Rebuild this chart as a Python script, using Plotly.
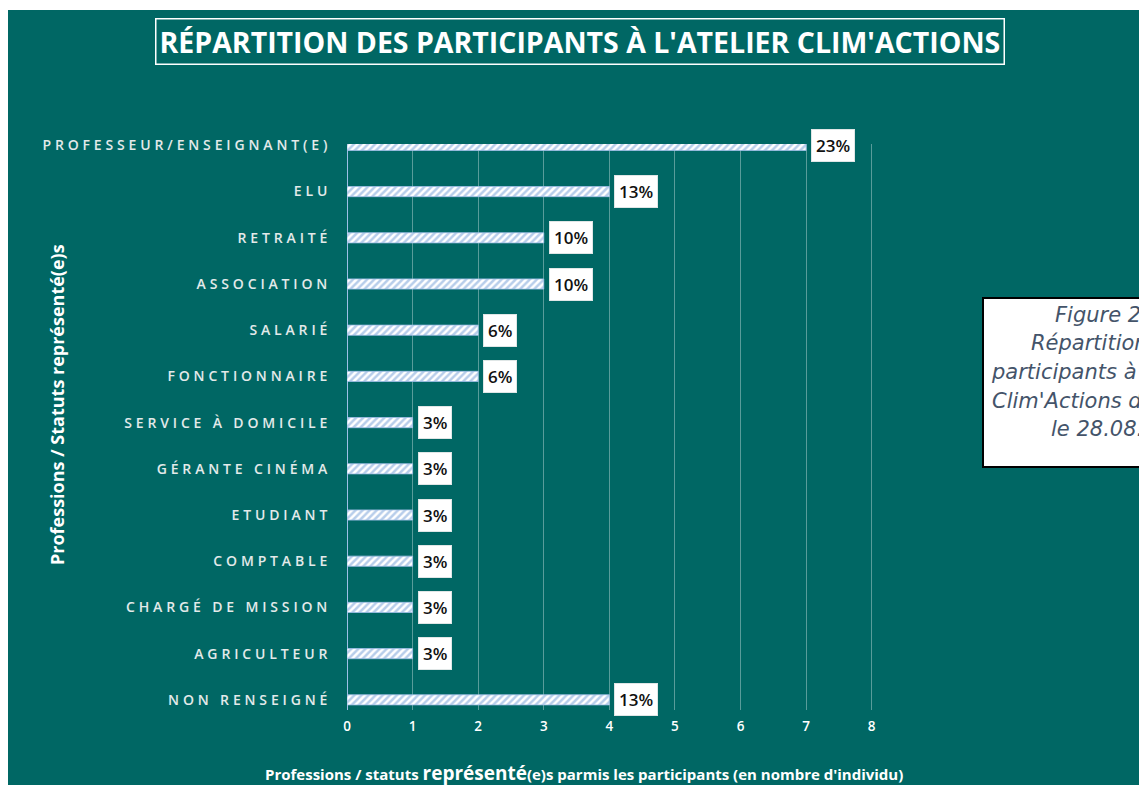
import plotly.graph_objects as go

categories = ["PROFESSEUR/ENSEIGNANT(E)", "ELU", "RETRAITÉ", "ASSOCIATION", "SALARIÉ",
              "FONCTIONNAIRE", "SERVICE À DOMICILE", "GÉRANTE CINÉMA", "ETUDIANT",
              "COMPTABLE", "CHARGÉ DE MISSION", "AGRICULTEUR", "NON RENSEIGNÉ"]
counts = [7, 4, 3, 3, 2, 2, 1, 1, 1, 1, 1, 1, 4]
pct_labels = ["23%", "13%", "10%", "10%", "6%", "6%", "3%", "3%", "3%", "3%", "3%", "3%", "13%"]
x_ticks = [0, 1, 2, 3, 4, 5, 6, 7, 8]

TEAL = "#006764"
W, H = 1147, 785
OFF = 8  # page body margin
L, R, T, B = 347 - OFF, 873 - OFF, 144 - OFF, 710 - OFF


def px(x):
    return (x - OFF - L) / (R - L)


def py(y):
    return (B - (y - OFF)) / (B - T)


tick_text = ["<span style='letter-spacing:3.85px'>%s</span>" % c for c in categories]

fig = go.Figure()
fig.add_trace(go.Bar(
    y=categories, x=counts, orientation="h", width=0.22,
    marker=dict(color="white", line=dict(color="#9fbfe8", width=0.8),
                pattern=dict(shape="/", fgcolor="#6f9bd6", size=5, solidity=0.5)),
    hoverinfo="skip",
))

annotations = []
for c, v, t in zip(categories, counts, pct_labels):
    annotations.append(dict(
        x=v, y=c, xref="x", yref="y", text=t, showarrow=False,
        xanchor="left", yanchor="middle", xshift=5, bgcolor="white",
        bordercolor="#dfe6e6", borderwidth=1, borderpad=4,
        font=dict(family="Open Sans", size=17, color="#111111", weight=600),
    ))

# title
annotations.append(dict(
    x=px(580), y=py(41), xref="paper", yref="paper", showarrow=False,
    xanchor="center", yanchor="middle",
    text="RÉPARTITION DES PARTICIPANTS À L'ATELIER CLIM'ACTIONS",
    font=dict(family="Open Sans", size=28.5, color="white", weight=700),
    bordercolor="white", borderwidth=1.5, borderpad=3,
))
# y title
annotations.append(dict(
    x=px(57), y=py(405), xref="paper", yref="paper", showarrow=False, textangle=-90,
    xanchor="center", yanchor="middle",
    text="Professions / Statuts représenté(e)s",
    font=dict(family="Open Sans", size=18, color="white", weight=700),
))
# x title
annotations.append(dict(
    x=px(584), y=py(773), xref="paper", yref="paper", showarrow=False,
    xanchor="center", yanchor="middle",
    text="Professions / statuts <span style='font-size:19px'>représenté</span>(e)s parmis les participants (en nombre d'individu)",
    font=dict(family="Open Sans", size=15, color="white", weight=700),
))

# caption box (clipped by right edge, as in the reference)
cap_lines = [("Figure 2 :", 1053, 315), ("Répartition des", 1029, 343),
             ("participants à l'atelier", 989, 372), ("Clim'Actions du", 990, 401),
             ("le 28.08.2023", 1049, 429)]
for txt, x0, y0 in cap_lines:
    annotations.append(dict(
        x=px(x0), y=py(y0), xref="paper", yref="paper", showarrow=False,
        xanchor="left", yanchor="middle", text=txt,
        font=dict(family="DejaVu Sans", size=21, color="#44546a", style="italic"),
    ))

shapes = [
    dict(type="rect", xref="paper", yref="paper", layer="below",
         x0=px(8), x1=px(W + 20), y0=py(H + 20), y1=py(10),
         fillcolor=TEAL, line=dict(width=0)),
    dict(type="rect", xref="paper", yref="paper", layer="below",
         x0=px(983), x1=px(W + 30), y0=py(467), y1=py(298),
         fillcolor="white", line=dict(color="black", width=2)),
]

fig.update_layout(
    width=W, height=H,
    margin=dict(l=L, r=W - R, t=T, b=H - B),
    paper_bgcolor="white", plot_bgcolor="rgba(0,0,0,0)",
    showlegend=False, bargap=0.5,
    annotations=annotations, shapes=shapes,
    xaxis=dict(range=[0, 8.02], tickvals=x_ticks, showgrid=True,
               gridcolor="rgba(255,255,255,0.35)", gridwidth=1,
               zeroline=True, zerolinecolor="#9dbfe6", zerolinewidth=1.2,
               tickfont=dict(family="Open Sans", size=13.5, color="white", weight=600),
               ticks="outside", ticklen=4, tickcolor="rgba(0,0,0,0)", fixedrange=True),
    yaxis=dict(autorange=False, range=[12.22, -0.03], categoryorder="array",
               categoryarray=categories, tickvals=categories, ticktext=tick_text,
               showgrid=False,
               tickfont=dict(family="Open Sans", size=14, color="#e3eaea", weight=600),
               ticks="outside", ticklen=12, tickcolor="rgba(0,0,0,0)", fixedrange=True),
)

fig.write_html("out.html")
